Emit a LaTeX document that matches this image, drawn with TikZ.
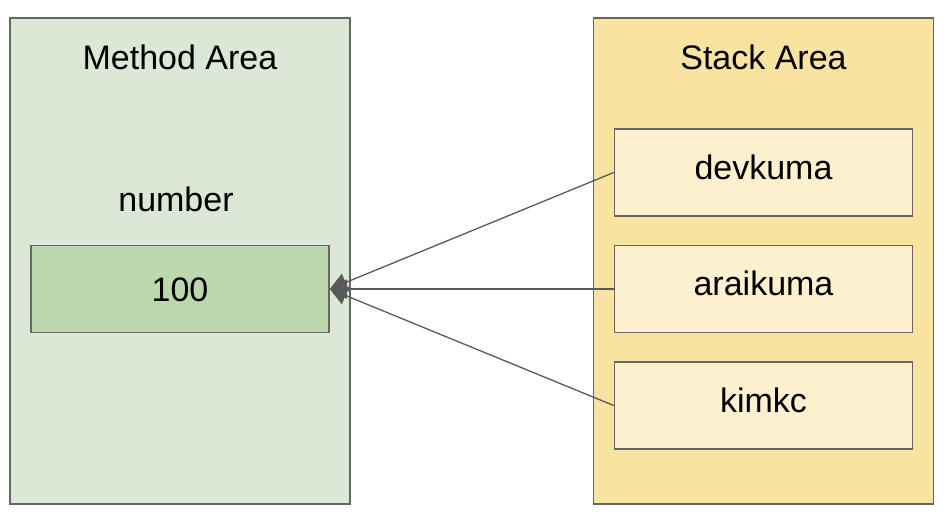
\documentclass[tikz,border=0pt]{standalone}
\usepackage{fontspec}
\setmainfont{Liberation Sans}
\usepackage{tikz}
\usetikzlibrary{arrows.meta}
\definecolor{methodbg}{HTML}{DBE8D5}
\definecolor{valuebg}{HTML}{BCD7AE}
\definecolor{stackbg}{HTML}{F9E3A0}
\definecolor{varbg}{HTML}{FCF0CF}
\definecolor{border}{HTML}{666666}
\definecolor{line}{HTML}{595959}
\tikzset{
  area/.style={draw=border, line width=1.6pt, minimum width=340pt, minimum height=486pt, inner sep=0pt},
  cell/.style={draw=border, line width=1.6pt, minimum width=298pt, minimum height=87pt, inner sep=0pt},
  label/.style={anchor=base, font=\fontsize{34}{40}\selectfont},
  ref/.style={draw=line, line width=1.3pt, -{Triangle[length=17pt, width=19pt]}},
}
\begin{document}
\begin{tikzpicture}[x=1pt, y=-1pt]
\useasboundingbox (0,0) rectangle (948,518);
\node[area, fill=methodbg] (method) at (180,261) {};
\node[area, fill=stackbg] (stack) at (763.5,261) {};
\node[label] (methodtitle) at (180,70) {Method Area};
\node[label] (stacktitle) at (763.5,70) {Stack Area};
\node[label] (numname) at (176,212) {number};
\node[cell, fill=valuebg] (num) at (180,289) {};
\node[label] (numval) at (180,302) {100};
\foreach \name/\y in {devkuma/172.5, araikuma/289, kimkc/405.5}{
  \node[cell, fill=varbg] (\name) at (763.5,\y) {};
  \node[label] at (763.5,\y+7) {\name};
}
\foreach \name in {devkuma, araikuma, kimkc}{
  \draw[ref] (\name.west) -- (num.east);
}
\end{tikzpicture}
\end{document}
